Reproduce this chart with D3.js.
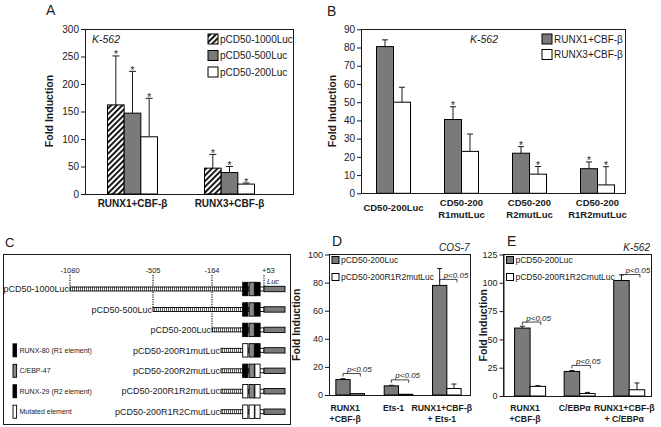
<!DOCTYPE html>
<html><head><meta charset="utf-8">
<script src="https://cdn.jsdelivr.net/npm/d3@7"></script>
<style>body{margin:0;background:#fff} svg{display:block;font-family:"Liberation Sans",Arial,sans-serif}</style>
</head><body><svg id="c" width="661" height="427"></svg>
<script>
// ---------- DATA ----------
// Panel A
const aCategories = ["RUNX1+CBF-β", "RUNX3+CBF-β"];
const aSeries = ["pCD50-1000Luc", "pCD50-500Luc", "pCD50-200Luc"];
const aValues = [[162, 147, 104], [47, 39, 18]];
const aErrors = [[89, 76, 70], [25, 11, 2]];
const aTicks = [0, 50, 100, 150, 200, 250, 300];
// Panel B
const bCategories = [["CD50-200Luc"], ["CD50-200", "R1mutLuc"], ["CD50-200", "R2mutLuc"], ["CD50-200", "R1R2mutLuc"]];
const bSeries = ["RUNX1+CBF-β", "RUNX3+CBF-β"];
const bRunx1 = [80.5, 40.5, 22, 13.5];
const bRunx1Err = [3.7, 7, 3.6, 3.7];
const bRunx1Star = [false, true, true, true];
const bRunx3 = [50, 23, 10.5, 4.6];
const bRunx3Err = [8.2, 9.5, 4.2, 10];
const bRunx3Star = [false, false, true, true];
const bTicks = [0, 10, 20, 30, 40, 50, 60, 70, 80, 90];
// Panel C
const cConstructs = ["pCD50-1000Luc", "pCD50-500Luc", "pCD50-200Luc", "pCD50-200R1mutLuc", "pCD50-200R2mutLuc", "pCD50-200R1R2mutLuc", "pCD50-200R1R2CmutLuc"];
const cStarts = [-1080, -505, -164, -164, -164, -164, -164];
const cR1 = ["wt", "wt", "wt", "mut", "wt", "mut", "mut"];
const cCebp = ["wt", "wt", "wt", "wt", "wt", "wt", "mut"];
const cR2 = ["wt", "wt", "wt", "wt", "mut", "mut", "mut"];
const cMarks = ["-1080", "-505", "-164", "+53"];
const cMarkPos = [-1080, -505, -164, 53];
const cElementPos = [-80, -47, -29];
const cLegend = ["RUNX-80 (R1 element)", "C/EBP-47", "RUNX-29 (R2 element)", "Mutated element"];
// Panel D
const dCategories = [["RUNX1", "+CBF-β"], ["Ets-1"], ["RUNX1+CBF-β", "+ Ets-1"]];
const dSeries = ["pCD50-200Luc", "pCD50-200R1R2mutLuc"];
const dWT = [11, 6.5, 78];
const dWTErr = [0.6, 0.4, 12];
const dMut = [1, 0.5, 4.6];
const dMutErr = [0, 0, 3.2];
const dTicks = [0, 20, 40, 60, 80, 100];
// Panel E
const eCategories = [["RUNX1", "+CBF-β"], ["C/EBPα"], ["RUNX1+CBF-β", "+ C/EBPα"]];
const eSeries = ["pCD50-200Luc", "pCD50-200R1R2CmutLuc"];
const eWT = [60, 21.7, 102];
const eWTErr = [1.6, 0.8, 5];
const eMut = [8.5, 2.2, 5.5];
const eMutErr = [0.7, 1, 6];
const eTicks = [0, 25, 50, 75, 100, 125];

// ---------- STYLE ----------
const FONT = '"Liberation Sans", Arial, sans-serif';
const INK = "#1a1a1a";
const GRAY = "#7a7a7a";
const svg = d3.select("#c");
svg.append("rect").attr("width", 661).attr("height", 427).attr("fill", "#fff");

const defs = svg.append("defs");
const pd = defs.append("pattern").attr("id", "diag").attr("patternUnits", "userSpaceOnUse")
  .attr("width", 4).attr("height", 4).attr("patternTransform", "rotate(45)");
pd.append("rect").attr("width", 4).attr("height", 4).attr("fill", "#fff");
pd.append("line").attr("x1", 1).attr("x2", 1).attr("y1", 0).attr("y2", 4).attr("stroke", "#000").attr("stroke-width", 1.8);
const pv = defs.append("pattern").attr("id", "vhatch").attr("patternUnits", "userSpaceOnUse")
  .attr("width", 2).attr("height", 10);
pv.append("rect").attr("width", 2).attr("height", 10).attr("fill", "#fff");
pv.append("line").attr("x1", 0.5).attr("x2", 0.5).attr("y1", 0).attr("y2", 10).attr("stroke", "#333").attr("stroke-width", 0.8);

function text(g, x, y, s, o = {}) {
  return g.append("text").attr("x", x).attr("y", y).text(s)
    .attr("font-family", FONT).attr("font-size", o.size || 10)
    .attr("font-weight", o.bold ? "bold" : null)
    .attr("font-style", o.italic ? "italic" : null)
    .attr("text-anchor", o.anchor || "start").attr("fill", o.fill || INK);
}
function yAxis(x, y, ticks, fs) {
  const a = svg.append("g").attr("transform", `translate(${x},0)`)
    .call(d3.axisLeft(y).tickValues(ticks).tickSize(4).tickSizeOuter(0).tickPadding(2));
  a.attr("font-family", FONT).attr("font-size", fs);
  a.select(".domain").attr("stroke", INK);
  a.selectAll(".tick line").attr("stroke", INK);
  a.selectAll(".tick text").attr("fill", INK);
}
function frame(x0, x1, y0, y1) {
  svg.append("rect").attr("x", x0).attr("y", y0).attr("width", x1 - x0).attr("height", y1 - y0)
    .attr("fill", "none").attr("stroke", INK).attr("shape-rendering", "crispEdges");
}
function yLabel(x, yc, s) {
  text(svg, 0, 0, s, { size: 10.5, bold: true, anchor: "middle" })
    .attr("transform", `translate(${x},${yc}) rotate(-90)`);
}
// generic bars: items {x, w, v, e, fill, star}
function drawBars(items, y, cap, starSize) {
  const g = svg.append("g");
  g.selectAll("rect").data(items).join("rect")
    .attr("x", d => d.x).attr("width", d => d.w)
    .attr("y", d => y(d.v)).attr("height", d => y(0) - y(d.v))
    .attr("fill", d => d.fill).attr("stroke", "#000").attr("stroke-width", 1);
  const eb = items.filter(d => d.e > 0);
  g.selectAll("line.v").data(eb).join("line").attr("class", "v")
    .attr("x1", d => d.x + d.w / 2).attr("x2", d => d.x + d.w / 2)
    .attr("y1", d => y(d.v)).attr("y2", d => y(d.v + d.e)).attr("stroke", INK);
  g.selectAll("line.c").data(eb).join("line").attr("class", "c")
    .attr("x1", d => d.x + d.w / 2 - cap / 2).attr("x2", d => d.x + d.w / 2 + cap / 2)
    .attr("y1", d => y(d.v + d.e)).attr("y2", d => y(d.v + d.e)).attr("stroke", INK);
  g.selectAll("text.s").data(items.filter(d => d.star)).join("text").attr("class", "s")
    .attr("x", d => d.x + d.w / 2).attr("y", d => y(d.v + d.e) + 2.5)
    .attr("text-anchor", "middle").attr("font-family", FONT).attr("font-size", starSize).attr("fill", INK).text("*");
}
function legend(x, ys, labels, fills, sq, fs) {
  labels.forEach((l, i) => {
    svg.append("rect").attr("x", x).attr("y", ys[i] - sq / 2).attr("width", sq).attr("height", sq)
      .attr("fill", fills[i]).attr("stroke", "#000");
    text(svg, x + sq + 2, ys[i] + fs * 0.36, l, { size: fs });
  });
}
function catLabels(cats, xs, y1, lh, fs) {
  cats.forEach((lines, i) => {
    lines.forEach((l, k) => text(svg, xs[i], y1 + k * lh, l, { size: fs, bold: true, anchor: "middle" }));
  });
}

// ---------- PANEL A ----------
{
  const y = d3.scaleLinear().domain([0, 300]).range([194, 29]);
  const x = d3.scaleBand().domain(aCategories).range([84, 278]);
  const xi = d3.scaleBand().domain(aSeries).range([-25, 25]);
  const fills = ["url(#diag)", GRAY, "#fff"];
  frame(85, 293, 29, 194);
  yAxis(85, y, aTicks, 10);
  const items = [];
  aCategories.forEach((c, i) => aSeries.forEach((s, j) => items.push({
    x: x(c) + x.bandwidth() / 2 + xi(s), w: xi.bandwidth(), v: aValues[i][j], e: aErrors[i][j], fill: fills[j], star: true
  })));
  drawBars(items, y, 7, 10);
  catLabels(aCategories.map(c => [c]), aCategories.map(c => x(c) + x.bandwidth() / 2), 207, 11, 10);
  legend(208, [39, 55.5, 72], aSeries, fills, 10, 10);
  text(svg, 92, 43, "K-562", { size: 10.5, italic: true });
  yLabel(53, 111, "Fold Induction");
  text(svg, 46, 15, "A", { size: 14 });
}

// ---------- PANEL B ----------
{
  const y = d3.scaleLinear().domain([0, 90]).range([193.3, 29.3]);
  const keys = bCategories.map(c => c.join(" "));
  const x = d3.scaleBand().domain(keys).range([359.5, 631.5]);
  const xi = d3.scaleBand().domain(bSeries).range([-17, 17]);
  frame(361, 625, 29.3, 193.3);
  yAxis(361, y, bTicks, 10);
  const items = [];
  keys.forEach((k, i) => {
    const c = x(k) + x.bandwidth() / 2;
    items.push({ x: c + xi(bSeries[0]), w: xi.bandwidth(), v: bRunx1[i], e: bRunx1Err[i], fill: GRAY, star: bRunx1Star[i] });
    items.push({ x: c + xi(bSeries[1]), w: xi.bandwidth(), v: bRunx3[i], e: bRunx3Err[i], fill: "#fff", star: bRunx3Star[i] });
  });
  drawBars(items, y, 6, 10);
  bCategories.forEach((lines, i) => {
    const cx = x(keys[i]) + x.bandwidth() / 2;
    if (lines.length === 1) text(svg, cx, 211, lines[0], { size: 9.5, bold: true, anchor: "middle" });
    else lines.forEach((l, k) => text(svg, cx, 206 + k * 11.5, l, { size: 9.5, bold: true, anchor: "middle" }));
  });
  legend(542, [39, 54.5], bSeries, [GRAY, "#fff"], 10, 10);
  text(svg, 498, 43, "K-562", { size: 10.5, italic: true, anchor: "end" });
  yLabel(336, 111, "Fold Induction");
  text(svg, 327, 16, "B", { size: 14 });
}

// ---------- PANEL C ----------
{
  const g = svg.append("g");
  frame(3.5, 290, 254.5, 424.5);
  text(svg, 5, 247, "C", { size: 13 });
  const px = d3.scaleLinear().domain([-1080, -505, -164, -80, -47, -29, 53]).range([70, 153, 212, 245.3, 251.7, 257.5, 264]);
  const ry = d3.scalePoint().domain(cConstructs).range([289, 411.7]);
  // position marks
  cMarks.forEach((m, i) => {
    const xx = px(cMarkPos[i]);
    const rowIdx = cMarkPos[i] === 53 ? 0 : cStarts.indexOf(cMarkPos[i]);
    text(g, xx, 272.5, m, { size: 7.5, anchor: i === 3 ? "start" : "middle" }).attr("dx", i === 3 ? -2 : 0);
    g.append("line").attr("x1", xx).attr("x2", xx).attr("y1", 275).attr("y2", ry(cConstructs[rowIdx]) - 2)
      .attr("stroke", INK).attr("stroke-width", 1.2).attr("stroke-dasharray", "1.2,1.2");
  });
  text(g, px(53) + 3, 284, "Luc", { size: 7.5, italic: true });
  const lucEnd = 285;
  cConstructs.forEach((name, i) => {
    const yc = ry(name);
    const x0 = px(cStarts[i]) + (i > 2 ? 9 : 0);
    text(g, x0 - 1, yc + 3.2, name, { size: 9, anchor: "end" });
    g.append("rect").attr("x", x0).attr("y", yc - 2).attr("width", px(-29) - x0).attr("height", 4)
      .attr("fill", "url(#vhatch)").attr("stroke", "#000").attr("stroke-width", 0.9);
    g.append("rect").attr("x", px(-29)).attr("y", yc - 2).attr("width", px(53) - px(-29)).attr("height", 4)
      .attr("fill", "#fff").attr("stroke", "#000").attr("stroke-width", 0.9);
    g.append("rect").attr("x", px(53)).attr("y", yc - 2.7).attr("width", lucEnd - px(53)).attr("height", 5.4)
      .attr("fill", GRAY).attr("stroke", "#000").attr("stroke-width", 0.9);
    const states = [cR1[i], cCebp[i], cR2[i]];
    const wtFill = ["#000", "#888", "#000"];
    cElementPos.forEach((p, k) => {
      g.append("rect").attr("x", px(p) - 2.6).attr("y", yc - 6.7).attr("width", 5.2).attr("height", 13.4)
        .attr("fill", states[k] === "mut" ? "#fff" : wtFill[k]).attr("stroke", "#000").attr("stroke-width", 0.9);
    });
  });
  // legend
  const lf = ["#000", "#888", "#000", "#fff"];
  cLegend.forEach((l, i) => {
    const yc = ry(cConstructs[3 + i]);
    g.append("rect").attr("x", 13).attr("y", yc - 6.5).attr("width", 3.6).attr("height", 13)
      .attr("fill", lf[i]).attr("stroke", "#000").attr("stroke-width", 0.9);
    text(g, 19.5, yc + 2.6, l, { size: 7 });
  });
}

// ---------- PANELS D & E ----------
function pPanel(cfg) {
  const y = d3.scaleLinear().domain([0, cfg.max]).range([cfg.y0, cfg.y1]);
  const keys = cfg.cats.map(c => c.join(" "));
  const x = d3.scaleBand().domain(keys).range(cfg.xr);
  const xi = d3.scaleBand().domain(cfg.series).range([-cfg.bw, cfg.bw]);
  frame(cfg.left, cfg.right, cfg.y1, cfg.y0);
  yAxis(cfg.left, y, cfg.ticks, 9);
  const items = [];
  keys.forEach((k, i) => {
    const c = x(k) + x.bandwidth() / 2;
    items.push({ x: c + xi(cfg.series[0]), w: xi.bandwidth(), v: cfg.wt[i], e: cfg.wtErr[i], fill: GRAY });
    items.push({ x: c + xi(cfg.series[1]), w: xi.bandwidth(), v: cfg.mut[i], e: cfg.mutErr[i], fill: "#fff" });
  });
  drawBars(items, y, 5, 9);
  // p<0.05 brackets
  const br = svg.append("g");
  keys.forEach((k, i) => {
    const c = x(k) + x.bandwidth() / 2;
    const x1 = c - cfg.bw / 2, x2 = c + cfg.bw / 2 + 3;
    const by = y(cfg.wt[i]) - 6;
    br.append("path").attr("d", `M${x1},${by + 3}V${by}H${x2}V${by + 3}`).attr("fill", "none").attr("stroke", INK).attr("stroke-width", 0.8);
    text(br, x1 + 4, by - 1.5, "p<0.05", { size: 8, italic: true });
  });
  catLabels(cfg.cats, keys.map(k => x(k) + x.bandwidth() / 2 - 5), 411, 10.5, 8.7);
  legend(cfg.left + 3, [260, 277], cfg.series, [GRAY, "#fff"], 7, 8.5);
  text(svg, cfg.right - 1, 250.5, cfg.cell, { size: 10, italic: true, anchor: "end" });
  yLabel(cfg.ylab, (cfg.y0 + cfg.y1) / 2, "Fold Induction");
  text(svg, cfg.letterX, 246, cfg.letter, { size: 14 });
}
pPanel({ cats: dCategories, series: dSeries, wt: dWT, wtErr: dWTErr, mut: dMut, mutErr: dMutErr, ticks: dTicks,
  max: 100, y0: 395, y1: 254.5, xr: [326, 471], left: 329, right: 470.5, bw: 14.3, cell: "COS-7", ylab: 300, letter: "D", letterX: 332 });
pPanel({ cats: eCategories, series: eSeries, wt: eWT, wtErr: eWTErr, mut: eMut, mutErr: eMutErr, ticks: eTicks,
  max: 125, y0: 396, y1: 254.5, xr: [505.3, 654], left: 503.5, right: 651, bw: 15.5, cell: "K-562", ylab: 487, letter: "E", letterX: 507 });
</script></body></html>
